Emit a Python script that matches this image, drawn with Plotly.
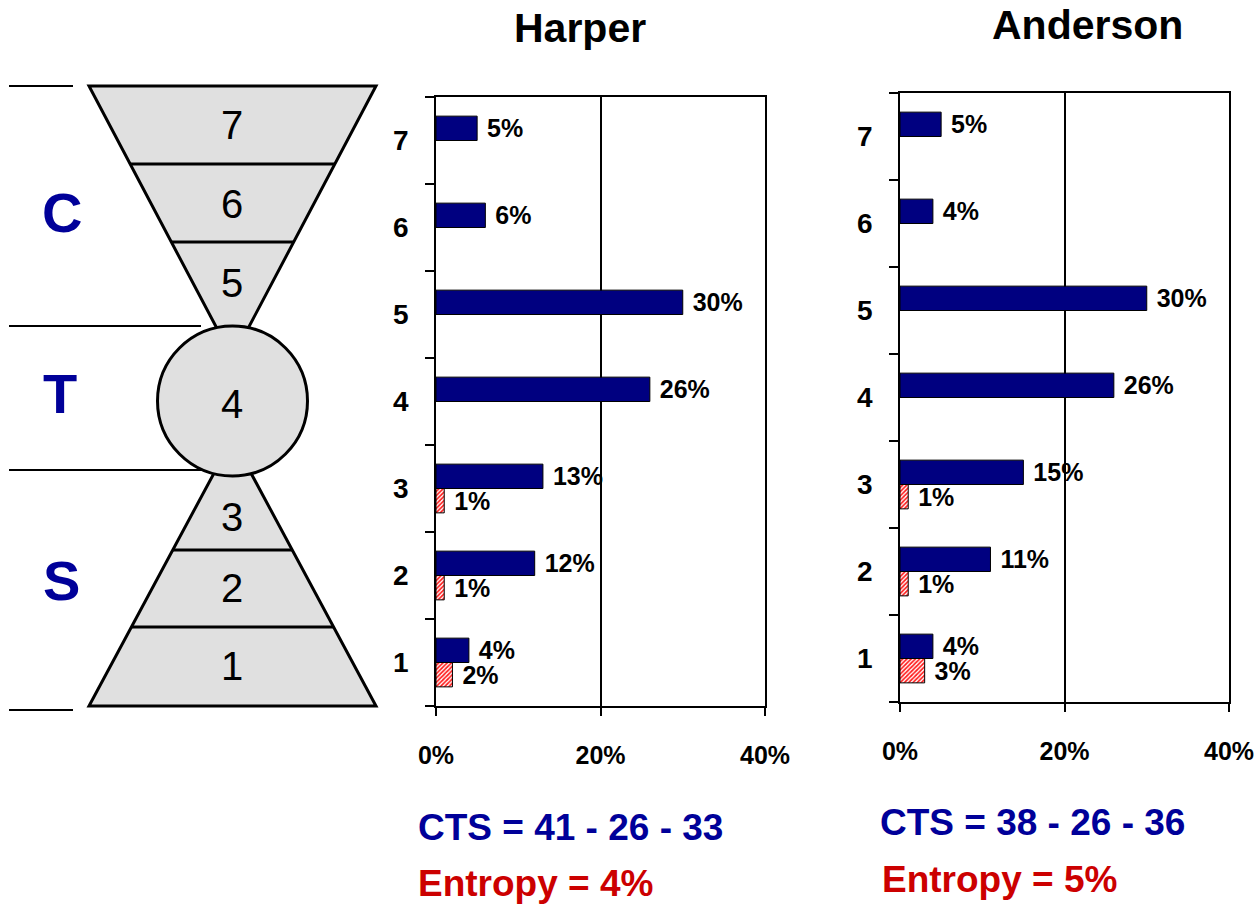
import plotly.graph_objects as go

W, H = 1257, 904

# ---------------- data ----------------
levels = ["1", "2", "3", "4", "5", "6", "7"]
harper_cts = [4, 12, 13, 26, 30, 6, 5]
harper_entropy = [2, 1, 1, None, None, None, None]
anderson_cts = [4, 11, 15, 26, 30, 4, 5]
anderson_entropy = [3, 1, 1, None, None, None, None]
x_tickvals = [0, 20, 40]
x_ticktext = ["0%", "20%", "40%"]
panel_titles = ["Harper", "Anderson"]
cts_texts = ["CTS = 41 - 26 - 33", "CTS = 38 - 26 - 36"]
entropy_texts = ["Entropy = 4%", "Entropy = 5%"]
zone_letters = ["C", "T", "S"]
diagram_numbers = ["7", "6", "5", "4", "3", "2", "1"]

NAVY = "#000080"
TEXT_BLUE = "#000099"
TEXT_RED = "#cc0000"
FONT = "Liberation Sans, Arial, sans-serif"


def px(x):
    return x / W


def py(y):
    return 1 - y / H


fig = go.Figure()

panels = [
    dict(cts=harper_cts, ent=harper_entropy, xa="x", ya="y"),
    dict(cts=anderson_cts, ent=anderson_entropy, xa="x2", ya="y2"),
]
for p in panels:
    fig.add_trace(go.Bar(
        y=levels, x=p["ent"], orientation="h", xaxis=p["xa"], yaxis=p["ya"],
        marker=dict(color="white", line=dict(color="black", width=1),
                    pattern=dict(shape="/", fgcolor="#ff1a1a", bgcolor="white",
                                 size=3, solidity=0.55)),
        texttemplate="\u00a0%{x}%", textposition="outside", constraintext="none",
        cliponaxis=False,
        textfont=dict(family=FONT, size=25, color="black", weight="bold"),
        showlegend=False, hoverinfo="skip"))
    fig.add_trace(go.Bar(
        y=levels, x=p["cts"], orientation="h", xaxis=p["xa"], yaxis=p["ya"],
        marker=dict(color=NAVY, line=dict(color="black", width=1)),
        texttemplate="\u00a0%{x}%", textposition="outside", constraintext="none",
        cliponaxis=False,
        textfont=dict(family=FONT, size=25, color="black", weight="bold"),
        showlegend=False, hoverinfo="skip"))

axis_x_common = dict(
    range=[0, 40], tickvals=x_tickvals, ticktext=x_ticktext,
    ticks="outside", ticklen=8, tickwidth=1.5, tickcolor="black",
    showline=True, linecolor="black", linewidth=1.5, mirror=True,
    showgrid=True, gridcolor="black", gridwidth=1.5, zeroline=False,
    tickfont=dict(family=FONT, size=25, color="black", weight="bold"),
    ticklabelstandoff=18, fixedrange=True, automargin=False,
)
axis_y_common = dict(
    type="category", categoryorder="array", categoryarray=levels,
    tickson="boundaries", ticks="outside", ticklen=9, tickwidth=1.5,
    tickcolor="black", showline=True, linecolor="black", linewidth=1.5,
    mirror=True, showgrid=False, zeroline=False,
    tickfont=dict(family=FONT, size=28, color="black", weight="bold"),
    ticklabelstandoff=20, fixedrange=True, automargin=False,
)

fig.update_layout(
    template="none",
    width=W, height=H, margin=dict(l=0, r=0, t=0, b=0, pad=0),
    paper_bgcolor="white", plot_bgcolor="white",
    barmode="group", bargap=0.44, bargroupgap=0,
    xaxis=dict(domain=[px(436), px(765)], anchor="y", **axis_x_common),
    yaxis=dict(domain=[py(706), py(97)], anchor="x", **axis_y_common),
    xaxis2=dict(domain=[px(900), px(1229)], anchor="y2", **axis_x_common),
    yaxis2=dict(domain=[py(702), py(93)], anchor="x2", **axis_y_common),
)

# ---------------- left diagram ----------------
GREY = "#e0e0e0"
shapes = []


def poly(points):
    d = "M " + " L ".join(f"{px(x)},{py(y)}" for x, y in points) + " Z"
    return dict(type="path", path=d, xref="paper", yref="paper",
                fillcolor=GREY, line=dict(color="black", width=3))


def seg(x0, y0, x1, y1, w=3):
    return dict(type="line", xref="paper", yref="paper",
                x0=px(x0), y0=py(y0), x1=px(x1), y1=py(y1),
                line=dict(color="black", width=w))


shapes.append(poly([(89, 86), (376, 86), (243, 338), (222, 338)]))
shapes.append(poly([(220, 462), (245, 462), (376, 706), (89, 706)]))
shapes.append(seg(130, 164, 335, 164))
shapes.append(seg(172, 242, 293, 242))
shapes.append(seg(172, 550, 293, 550))
shapes.append(seg(131, 627, 334, 627))
# left guide lines
shapes.append(seg(9, 86, 73, 86, 2))
shapes.append(seg(9, 326, 201, 326, 2))
shapes.append(seg(9, 470, 205, 470, 2))
shapes.append(seg(9, 710, 73, 710, 2))
# circle
shapes.append(dict(type="circle", xref="paper", yref="paper",
                   x0=px(157.5), x1=px(307.5), y0=py(476), y1=py(326),
                   fillcolor=GREY, line=dict(color="black", width=3)))
fig.update_layout(shapes=shapes)

ann = []
num_y = [125, 204, 283, 404, 517, 588, 666]
for t, y in zip(diagram_numbers, num_y):
    ann.append(dict(text=t, x=px(232), y=py(y), xref="paper", yref="paper",
                    showarrow=False, xanchor="center", yanchor="middle",
                    font=dict(family=FONT, size=40, color="black")))
for t, (x, y) in zip(zone_letters, [(62, 212), (60, 393), (62, 580)]):
    ann.append(dict(text=t, x=px(x), y=py(y), xref="paper", yref="paper",
                    showarrow=False, xanchor="center", yanchor="middle",
                    font=dict(family=FONT, size=56, color=TEXT_BLUE, weight="bold")))
for t, (x, y) in zip(panel_titles, [(580, 28), (1087, 25)]):
    ann.append(dict(text=t, x=px(x), y=py(y), xref="paper", yref="paper",
                    showarrow=False, xanchor="center", yanchor="middle",
                    font=dict(family=FONT, size=41, color="black", weight="bold")))
for t, (x, y) in zip(cts_texts, [(416, 827), (878, 822)]):
    ann.append(dict(text=t, x=px(x), y=py(y), xref="paper", yref="paper",
                    showarrow=False, xanchor="left", yanchor="middle",
                    font=dict(family=FONT, size=37, color=TEXT_BLUE, weight="bold")))
for t, (x, y) in zip(entropy_texts, [(416, 883), (880, 879)]):
    ann.append(dict(text=t, x=px(x), y=py(y), xref="paper", yref="paper",
                    showarrow=False, xanchor="left", yanchor="middle",
                    font=dict(family=FONT, size=37, color=TEXT_RED, weight="bold")))
fig.update_layout(annotations=ann)

fig.write_html("out.html", config={"displayModeBar": False},
               post_script="document.body.style.margin='0';document.body.style.overflow='hidden';")
